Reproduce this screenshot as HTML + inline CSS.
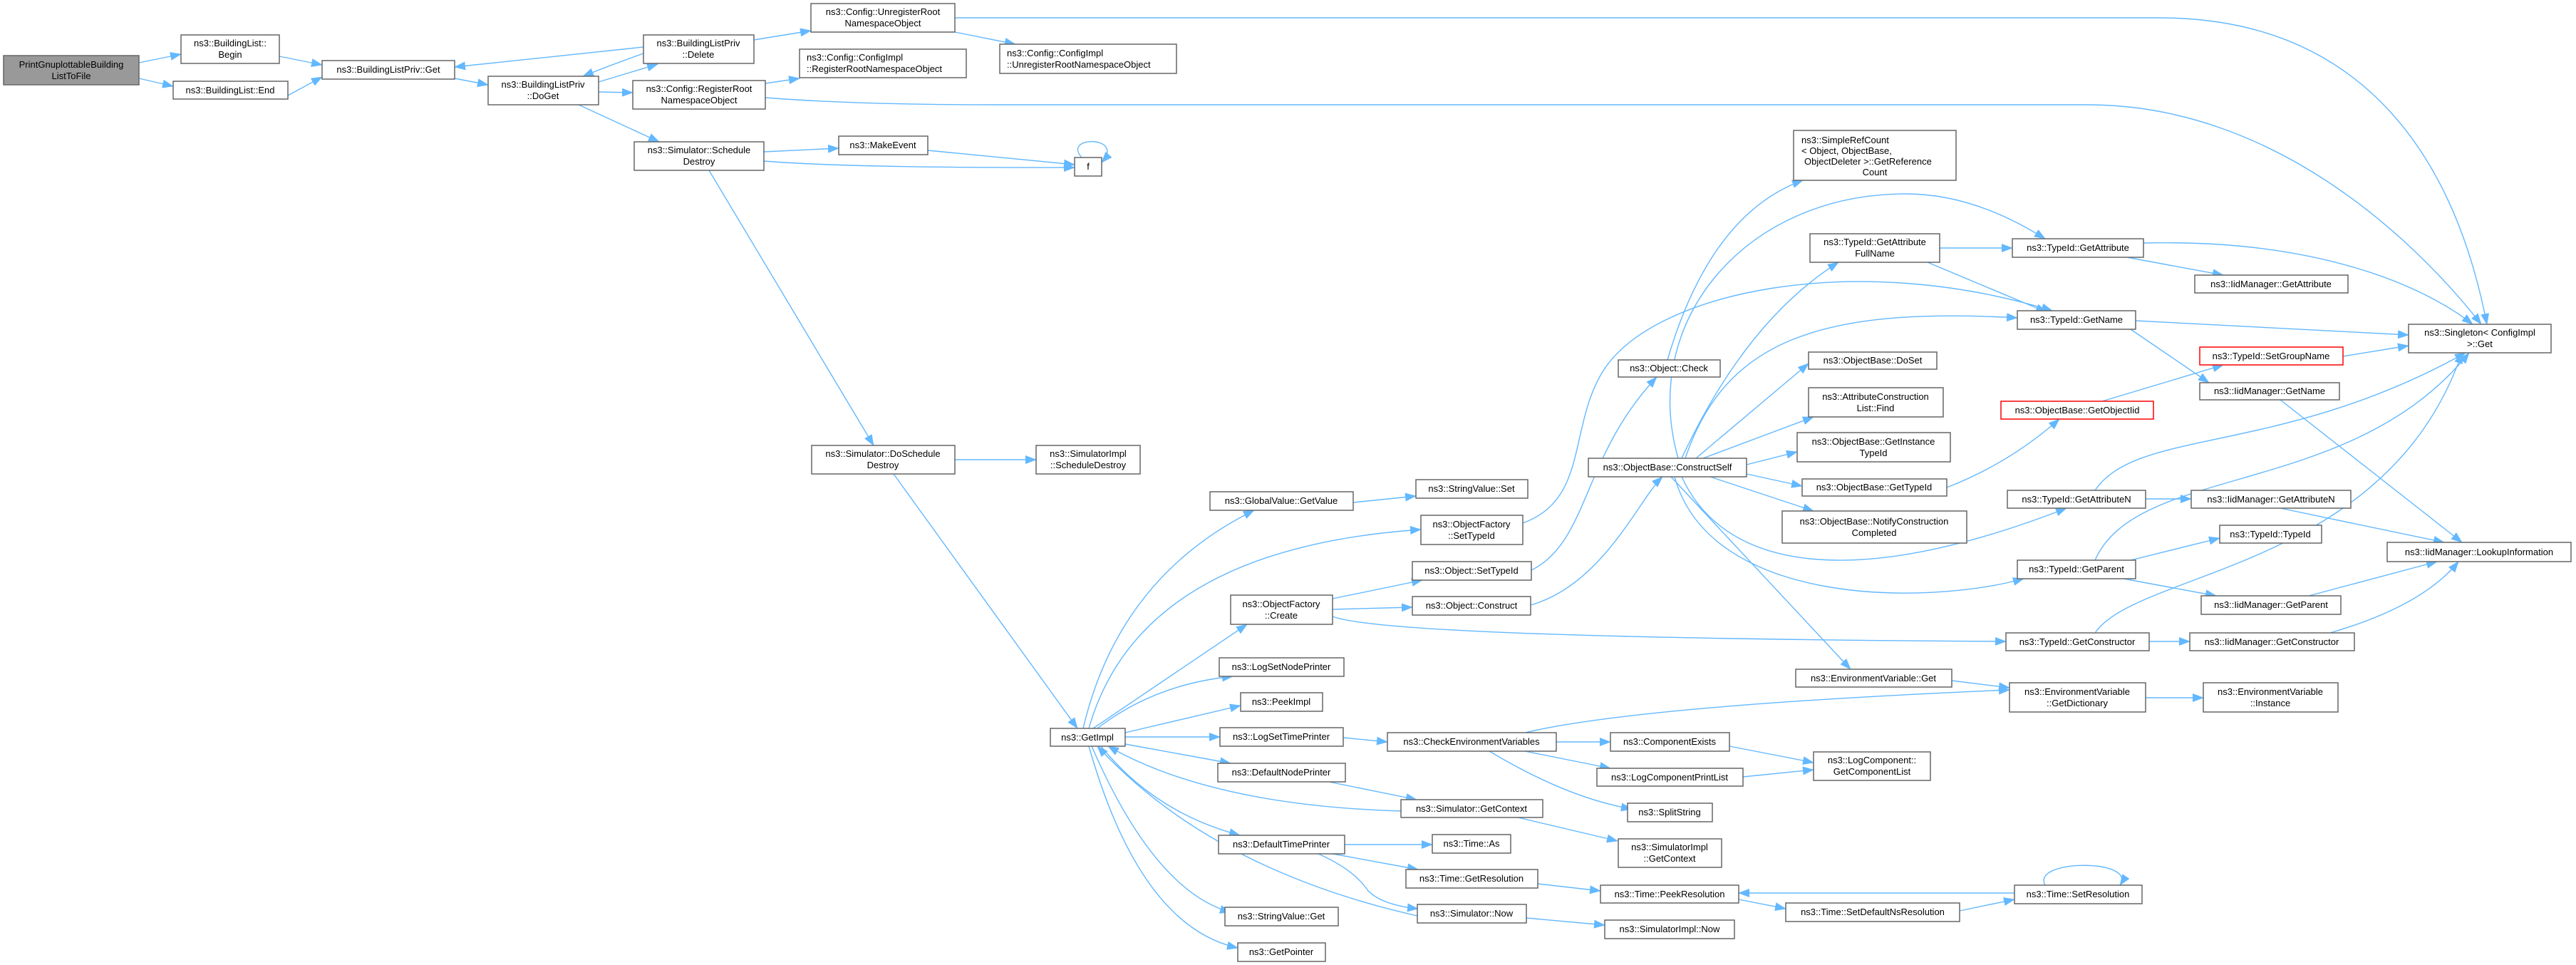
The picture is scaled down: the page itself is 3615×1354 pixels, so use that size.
<!DOCTYPE html>
<html><head><meta charset="utf-8"><style>
html,body{margin:0;padding:0;background:#fff;}
svg{display:block;}
text{font-family:"Liberation Sans",sans-serif;font-size:13px;fill:#000;}
.n{fill:#fff;stroke:#666;stroke-width:1.5;}
.r{fill:#fff;stroke:#f00;stroke-width:1.5;}
.g{fill:#999;stroke:#666;stroke-width:1.5;}
.e{fill:none;stroke:#63b8ff;stroke-width:1.4;marker-end:url(#a);}
</style></head><body>
<svg width="3615" height="1354" viewBox="0 0 3615 1354" xmlns="http://www.w3.org/2000/svg">
<defs><marker id="a" markerUnits="userSpaceOnUse" markerWidth="16" markerHeight="12" refX="15" refY="6" orient="auto"><path d="M0,0 L16,6 L0,12z" fill="#63b8ff"/></marker></defs>
<g>
<path class="e" d="M195,88 L254,76"/>
<path class="e" d="M195,110 L243,121"/>
<path class="e" d="M392,79 L452,91"/>
<path class="e" d="M404,134 L452,108"/>
<path class="e" d="M638,110 L685,119"/>
<path class="e" d="M840,115 L923,90"/>
<path class="e" d="M903,75 Q860,90 818,107"/>
<path class="e" d="M903,66 L638,94"/>
<path class="e" d="M1058,56 L1138,43"/>
<path class="e" d="M1340,45 L1425,62"/>
<path class="e" d="M1340,25 L3030,25 C3300,25 3440,200 3490,455"/>
<path class="e" d="M840,129 L888,130"/>
<path class="e" d="M1074,117 L1122,110"/>
<path class="e" d="M1074,137 Q1200,147 1400,147 L2930,147 C3200,147 3400,350 3482,455"/>
<path class="e" d="M812,147 L925,199"/>
<path class="e" d="M1072,213 L1177,208"/>
<path class="e" d="M1072,226 Q1200,236 1508,235"/>
<path class="e" d="M1302,211 L1508,231"/>
<path class="e" d="M1518,221 C1490,190 1580,190 1546,228"/>
<path class="e" d="M995,239 L1226,625"/>
<path class="e" d="M1340,645 L1454,645"/>
<path class="e" d="M1254,665 L1512,1022"/>
<path class="e" d="M1520,1022 Q1570,810 1760,716"/>
<path class="e" d="M1528,1022 Q1600,770 1994,743"/>
<path class="e" d="M1534,1022 L1750,876"/>
<path class="e" d="M1540,1022 Q1620,960 1730,949"/>
<path class="e" d="M1579,1028 L1741,990"/>
<path class="e" d="M1579,1034 L1712,1034"/>
<path class="e" d="M1579,1044 L1727,1071"/>
<path class="e" d="M1545,1047 Q1620,1140 1740,1172"/>
<path class="e" d="M1532,1047 Q1620,1250 1727,1280"/>
<path class="e" d="M1528,1047 Q1600,1300 1737,1330"/>
<path class="e" d="M1966,1138 Q1700,1130 1555,1047"/>
<path class="e" d="M1989,1285 Q1700,1220 1540,1047"/>
<path class="e" d="M1899,705 L1987,696"/>
<path class="e" d="M2137,734 C2230,700 2200,600 2250,520 C2320,410 2600,350 2880,436"/>
<path class="e" d="M1870,840 L1996,814"/>
<path class="e" d="M1870,855 L1982,852"/>
<path class="e" d="M1870,865 Q1950,895 2815,900"/>
<path class="e" d="M2149,800 C2230,760 2220,640 2325,529"/>
<path class="e" d="M2148,849 C2250,820 2300,700 2333,669"/>
<path class="e" d="M2340,505 Q2400,300 2530,253"/>
<path class="e" d="M2360,643 Q2450,450 2580,368"/>
<path class="e" d="M2355,643 C2300,450 2450,272 2674,272 C2760,272 2830,310 2870,335"/>
<path class="e" d="M2365,643 C2420,480 2550,430 2831,446"/>
<path class="e" d="M2380,643 L2538,510"/>
<path class="e" d="M2390,643 L2545,585"/>
<path class="e" d="M2451,652 L2522,634"/>
<path class="e" d="M2451,665 L2529,682"/>
<path class="e" d="M2400,669 L2545,717"/>
<path class="e" d="M2360,669 C2420,800 2600,830 2900,713"/>
<path class="e" d="M2350,669 C2400,850 2700,850 2840,812"/>
<path class="e" d="M2345,669 L2597,939"/>
<path class="e" d="M2722,348 L2824,348"/>
<path class="e" d="M2705,368 L2872,438"/>
<path class="e" d="M2985,361 L3120,386"/>
<path class="e" d="M3008,341 C3250,335 3400,400 3470,455"/>
<path class="e" d="M2997,450 L3380,470"/>
<path class="e" d="M2990,462 L3100,537"/>
<path class="e" d="M3200,561 L3455,761"/>
<path class="e" d="M2950,563 L3120,512"/>
<path class="e" d="M3288,500 L3380,485"/>
<path class="e" d="M2732,684 Q2820,650 2890,588"/>
<path class="e" d="M3011,700 L3075,700"/>
<path class="e" d="M2940,688 C3000,600 3200,640 3460,495"/>
<path class="e" d="M3200,713 L3430,761"/>
<path class="e" d="M2990,786 L3115,755"/>
<path class="e" d="M2980,812 L3110,836"/>
<path class="e" d="M2940,786 C3000,650 3300,700 3465,495"/>
<path class="e" d="M3240,836 L3420,788"/>
<path class="e" d="M3016,900 L3073,900"/>
<path class="e" d="M2940,888 C3000,800 3350,800 3455,495"/>
<path class="e" d="M3270,888 Q3400,850 3450,788"/>
<path class="e" d="M2739,955 L2820,965"/>
<path class="e" d="M3011,979 L3092,979"/>
<path class="e" d="M2140,1028 Q2300,990 2820,968"/>
<path class="e" d="M2184,1041 L2260,1041"/>
<path class="e" d="M2140,1054 L2260,1078"/>
<path class="e" d="M2090,1054 Q2200,1120 2290,1135"/>
<path class="e" d="M2427,1047 L2545,1070"/>
<path class="e" d="M2446,1090 L2545,1080"/>
<path class="e" d="M1885,1035 L1947,1041"/>
<path class="e" d="M1865,1097 L1988,1122"/>
<path class="e" d="M2130,1147 L2270,1180"/>
<path class="e" d="M1887,1185 L2010,1185"/>
<path class="e" d="M1870,1198 L1990,1220"/>
<path class="e" d="M1850,1198 Q1900,1220 1920,1250 Q1940,1270 1990,1275"/>
<path class="e" d="M2158,1240 L2246,1250"/>
<path class="e" d="M2142,1288 L2252,1298"/>
<path class="e" d="M2827,1253 L2440,1253"/>
<path class="e" d="M2440,1262 L2506,1275"/>
<path class="e" d="M2750,1278 L2827,1262"/>
<path class="e" d="M2870,1242 C2850,1205 3000,1205 2975,1242"/>
</g>
<g text-anchor="middle">
<rect class="g" x="5" y="78" width="190" height="41"/><text x="100" y="95">PrintGnuplottableBuilding</text><text x="100" y="111">ListToFile</text>
<rect class="n" x="254" y="49" width="138" height="40"/><text x="323" y="65">ns3::BuildingList::</text><text x="323" y="81">Begin</text>
<rect class="n" x="243" y="114" width="161" height="25"/><text x="323" y="131">ns3::BuildingList::End</text>
<rect class="n" x="452" y="85" width="186" height="26"/><text x="545" y="102">ns3::BuildingListPriv::Get</text>
<rect class="n" x="685" y="107" width="155" height="40"/><text x="762" y="123">ns3::BuildingListPriv</text><text x="762" y="139">::DoGet</text>
<rect class="n" x="903" y="49" width="155" height="40"/><text x="980" y="65">ns3::BuildingListPriv</text><text x="980" y="81">::Delete</text>
<rect class="n" x="1138" y="5" width="202" height="40"/><text x="1239" y="21">ns3::Config::UnregisterRoot</text><text x="1239" y="37">NamespaceObject</text>
<rect class="n" x="888" y="113" width="186" height="40"/><text x="981" y="129">ns3::Config::RegisterRoot</text><text x="981" y="145">NamespaceObject</text>
<rect class="n" x="890" y="199" width="182" height="40"/><text x="981" y="215">ns3::Simulator::Schedule</text><text x="981" y="231">Destroy</text>
<rect class="n" x="1177" y="191" width="125" height="26"/><text x="1239" y="208">ns3::MakeEvent</text>
<rect class="n" x="1508" y="221" width="38" height="26"/><text x="1527" y="238">f</text>
<rect class="n" x="1139" y="625" width="201" height="40"/><text x="1239" y="641">ns3::Simulator::DoSchedule</text><text x="1239" y="657">Destroy</text>
<rect class="n" x="1454" y="625" width="146" height="40"/><text x="1527" y="641">ns3::SimulatorImpl</text><text x="1527" y="657">::ScheduleDestroy</text>
<rect class="n" x="1474" y="1022" width="105" height="25"/><text x="1526" y="1039">ns3::GetImpl</text>
<rect class="n" x="1698" y="690" width="201" height="26"/><text x="1798" y="707">ns3::GlobalValue::GetValue</text>
<rect class="n" x="1987" y="673" width="157" height="26"/><text x="2065" y="690">ns3::StringValue::Set</text>
<rect class="n" x="1994" y="723" width="143" height="41"/><text x="2065" y="740">ns3::ObjectFactory</text><text x="2065" y="756">::SetTypeId</text>
<rect class="n" x="1982" y="788" width="167" height="26"/><text x="2065" y="805">ns3::Object::SetTypeId</text>
<rect class="n" x="1727" y="835" width="143" height="41"/><text x="1798" y="852">ns3::ObjectFactory</text><text x="1798" y="868">::Create</text>
<rect class="n" x="1982" y="837" width="166" height="26"/><text x="2065" y="854">ns3::Object::Construct</text>
<rect class="n" x="1711" y="923" width="175" height="26"/><text x="1798" y="940">ns3::LogSetNodePrinter</text>
<rect class="n" x="1741" y="972" width="115" height="26"/><text x="1798" y="989">ns3::PeekImpl</text>
<rect class="n" x="1712" y="1021" width="173" height="26"/><text x="1798" y="1038">ns3::LogSetTimePrinter</text>
<rect class="n" x="1709" y="1071" width="179" height="26"/><text x="1798" y="1088">ns3::DefaultNodePrinter</text>
<rect class="n" x="1710" y="1172" width="177" height="26"/><text x="1798" y="1189">ns3::DefaultTimePrinter</text>
<rect class="n" x="1719" y="1273" width="159" height="26"/><text x="1798" y="1290">ns3::StringValue::Get</text>
<rect class="n" x="1737" y="1323" width="123" height="26"/><text x="1798" y="1340">ns3::GetPointer</text>
<rect class="n" x="1947" y="1028" width="237" height="26"/><text x="2065" y="1045">ns3::CheckEnvironmentVariables</text>
<rect class="n" x="1966" y="1122" width="199" height="25"/><text x="2065" y="1139">ns3::Simulator::GetContext</text>
<rect class="n" x="2010" y="1171" width="110" height="26"/><text x="2065" y="1188">ns3::Time::As</text>
<rect class="n" x="1973" y="1220" width="185" height="26"/><text x="2065" y="1237">ns3::Time::GetResolution</text>
<rect class="n" x="1989" y="1269" width="153" height="26"/><text x="2065" y="1286">ns3::Simulator::Now</text>
<rect class="n" x="2260" y="1028" width="167" height="26"/><text x="2343" y="1045">ns3::ComponentExists</text>
<rect class="n" x="2241" y="1078" width="205" height="25"/><text x="2343" y="1095">ns3::LogComponentPrintList</text>
<rect class="n" x="2284" y="1127" width="119" height="26"/><text x="2343" y="1144">ns3::SplitString</text>
<rect class="n" x="2271" y="1177" width="145" height="40"/><text x="2343" y="1193">ns3::SimulatorImpl</text><text x="2343" y="1209">::GetContext</text>
<rect class="n" x="2246" y="1242" width="194" height="25"/><text x="2343" y="1259">ns3::Time::PeekResolution</text>
<rect class="n" x="2252" y="1291" width="182" height="26"/><text x="2343" y="1308">ns3::SimulatorImpl::Now</text>
<rect class="n" x="2506" y="1267" width="244" height="26"/><text x="2628" y="1284">ns3::Time::SetDefaultNsResolution</text>
<rect class="n" x="2827" y="1242" width="179" height="26"/><text x="2916" y="1259">ns3::Time::SetResolution</text>
<rect class="n" x="2545" y="1055" width="164" height="40"/><text x="2627" y="1071">ns3::LogComponent::</text><text x="2627" y="1087">GetComponentList</text>
<rect class="n" x="2520" y="939" width="219" height="25"/><text x="2629" y="956">ns3::EnvironmentVariable::Get</text>
<rect class="n" x="2820" y="958" width="191" height="41"/><text x="2915" y="975">ns3::EnvironmentVariable</text><text x="2915" y="991">::GetDictionary</text>
<rect class="n" x="3092" y="958" width="189" height="41"/><text x="3186" y="975">ns3::EnvironmentVariable</text><text x="3186" y="991">::Instance</text>
<rect class="n" x="2271" y="505" width="143" height="24"/><text x="2342" y="521">ns3::Object::Check</text>
<rect class="n" x="2229" y="643" width="222" height="26"/><text x="2340" y="660">ns3::ObjectBase::ConstructSelf</text>
<rect class="n" x="2540" y="328" width="182" height="40"/><text x="2631" y="344">ns3::TypeId::GetAttribute</text><text x="2631" y="360">FullName</text>
<rect class="n" x="2824" y="335" width="184" height="26"/><text x="2916" y="352">ns3::TypeId::GetAttribute</text>
<rect class="n" x="3080" y="386" width="215" height="25"/><text x="3187" y="403">ns3::IidManager::GetAttribute</text>
<rect class="n" x="2831" y="436" width="166" height="26"/><text x="2914" y="453">ns3::TypeId::GetName</text>
<rect class="n" x="2538" y="494" width="180" height="24"/><text x="2628" y="510">ns3::ObjectBase::DoSet</text>
<rect class="n" x="2538" y="544" width="189" height="41"/><text x="2632" y="561">ns3::AttributeConstruction</text><text x="2632" y="577">List::Find</text>
<rect class="n" x="2522" y="607" width="215" height="41"/><text x="2629" y="624">ns3::ObjectBase::GetInstance</text><text x="2629" y="640">TypeId</text>
<rect class="n" x="2529" y="672" width="203" height="24"/><text x="2630" y="688">ns3::ObjectBase::GetTypeId</text>
<rect class="n" x="2501" y="717" width="259" height="45"/><text x="2630" y="736">ns3::ObjectBase::NotifyConstruction</text><text x="2630" y="752">Completed</text>
<rect class="n" x="3380" y="455" width="200" height="40"/><text x="3480" y="471">ns3::Singleton&lt; ConfigImpl</text><text x="3480" y="487">&gt;::Get</text>
<rect class="r" x="3087" y="487" width="201" height="25"/><text x="3187" y="504">ns3::TypeId::SetGroupName</text>
<rect class="n" x="3087" y="537" width="196" height="24"/><text x="3185" y="553">ns3::IidManager::GetName</text>
<rect class="r" x="2808" y="563" width="214" height="25"/><text x="2915" y="580">ns3::ObjectBase::GetObjectIid</text>
<rect class="n" x="2817" y="688" width="194" height="25"/><text x="2914" y="705">ns3::TypeId::GetAttributeN</text>
<rect class="n" x="3075" y="688" width="224" height="25"/><text x="3187" y="705">ns3::IidManager::GetAttributeN</text>
<rect class="n" x="3115" y="737" width="143" height="25"/><text x="3186" y="754">ns3::TypeId::TypeId</text>
<rect class="n" x="3350" y="761" width="258" height="27"/><text x="3479" y="779">ns3::IidManager::LookupInformation</text>
<rect class="n" x="2831" y="786" width="166" height="26"/><text x="2914" y="803">ns3::TypeId::GetParent</text>
<rect class="n" x="3089" y="836" width="196" height="26"/><text x="3187" y="853">ns3::IidManager::GetParent</text>
<rect class="n" x="2815" y="888" width="201" height="25"/><text x="2915" y="905">ns3::TypeId::GetConstructor</text>
<rect class="n" x="3073" y="888" width="231" height="25"/><text x="3188" y="905">ns3::IidManager::GetConstructor</text>
</g>
<g>
<rect class="n" x="1403" y="62" width="248" height="41"/><text x="1413" y="79">ns3::Config::ConfigImpl</text><text x="1413" y="95">::UnregisterRootNamespaceObject</text>
<rect class="n" x="1122" y="69" width="234" height="40"/><text x="1132" y="85">ns3::Config::ConfigImpl</text><text x="1132" y="101">::RegisterRootNamespaceObject</text>
<rect class="n" x="2517" y="183" width="228" height="70"/><text x="2528" y="201">ns3::SimpleRefCount</text><text x="2528" y="216">&lt; Object, ObjectBase,</text><text x="2532" y="231"> ObjectDeleter &gt;::GetReference</text><text x="2631" y="246" text-anchor="middle">Count</text>
</g>
</svg>
</body></html>
